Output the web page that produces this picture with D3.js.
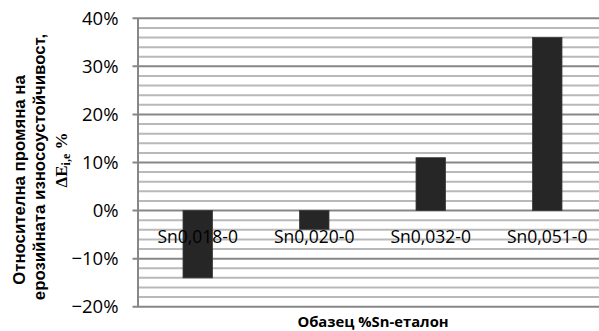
<!DOCTYPE html>
<html>
<head>
<meta charset="utf-8">
<script src="https://cdn.jsdelivr.net/npm/d3@7"></script>
<style>
html,body{margin:0;padding:0;background:#fff;}
svg{display:block;}
</style>
</head>
<body>
<svg id="chart" width="599" height="331"></svg>
<script>
const categories = ["Sn0,018-0", "Sn0,020-0", "Sn0,032-0", "Sn0,051-0"];
const values = [-0.14, -0.039, 0.11, 0.36];
const majorTicks = [-0.2, -0.1, 0, 0.1, 0.2, 0.3, 0.4];
const minorTicks = d3.range(-20, 41, 2).map(v => v / 100);
const xTitle = "Обазец %Sn-еталон";
const yTitleLines = ["Относителна промяна на", "ерозийната износоустойчивост,"];

const svg = d3.select("#chart");
const x = d3.scaleBand().domain(categories).range([139.5, 605.5])
  .paddingInner(0.747).paddingOuter(0.3735);
const y = d3.scaleLinear().domain([-0.2, 0.4]).range([306.7, 18.3]);
const left = 137.5, right = 599;

// minor gridlines
svg.append("g").selectAll("line").data(minorTicks.filter(t => !majorTicks.some(m => Math.abs(m - t) < 1e-9)))
  .join("line")
  .attr("x1", left).attr("x2", right)
  .attr("y1", d => y(d)).attr("y2", d => y(d))
  .attr("stroke", "#b9b9b9").attr("stroke-width", 2);
// major gridlines
svg.append("g").selectAll("line").data(majorTicks).join("line")
  .attr("x1", left - 5).attr("x2", right)
  .attr("y1", d => y(d)).attr("y2", d => y(d))
  .attr("stroke", "#878787").attr("stroke-width", 2);

// y axis
const yAxis = d3.axisLeft(y).tickValues(majorTicks).tickFormat(d3.format(".0%"))
  .tickSize(0).tickPadding(19);
const gy = svg.append("g").attr("transform", `translate(${left},0)`).call(yAxis);
gy.select(".domain").attr("stroke", "#878787").attr("stroke-width", 2);
gy.selectAll("text").attr("font-family", "Open Sans").attr("font-size", 18.5).attr("fill", "#000");

// bars
svg.append("g").selectAll("rect").data(values).join("rect")
  .attr("x", (d, i) => x(categories[i]))
  .attr("width", x.bandwidth())
  .attr("y", d => y(Math.max(0, d)))
  .attr("height", d => Math.abs(y(d) - y(0)))
  .attr("fill", "#262626").attr("stroke", "#3a3a3a").attr("stroke-width", 0.8);

// category labels
svg.append("g").selectAll("text").data(categories).join("text")
  .attr("x", d => x(d) + x.bandwidth() / 2)
  .attr("y", 243)
  .attr("text-anchor", "middle")
  .attr("font-family", "Open Sans").attr("font-size", 17.5).attr("fill", "#000")
  .text(d => d);

// x title
svg.append("text").attr("x", 373).attr("y", 327).attr("text-anchor", "middle")
  .attr("font-family", "Open Sans").attr("font-weight", "bold").attr("font-size", 14.8)
  .text(xTitle);

// y title
const yCenters = [[18.5, 180], [39, 167]];
yTitleLines.forEach((t, i) => {
  svg.append("text")
    .attr("transform", `translate(${yCenters[i][0] + 6},${yCenters[i][1]}) rotate(-90)`)
    .attr("text-anchor", "middle")
    .attr("font-family", "Liberation Sans").attr("font-weight", "bold").attr("font-size", 16.8)
    .text(t);
});
const t3 = svg.append("text")
  .attr("transform", `translate(${61 + 6},160) rotate(-90)`)
  .attr("text-anchor", "middle")
  .attr("font-family", "Liberation Serif").attr("font-weight", "bold").attr("font-size", 17);
t3.append("tspan").text("ΔE");
t3.append("tspan").attr("font-size", 12).attr("dy", 3).text("i,e");
t3.append("tspan").attr("dy", -3).text(" %");
</script>
</body>
</html>
